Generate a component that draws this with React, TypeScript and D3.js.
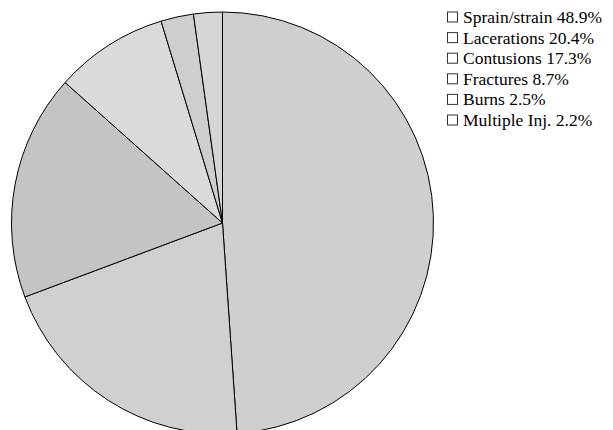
import React from "react";
import * as d3 from "d3";

const categories = ["Sprain/strain", "Lacerations", "Contusions", "Fractures", "Burns", "Multiple Inj."];
const values = [48.9, 20.4, 17.3, 8.7, 2.5, 2.2];
const sliceColors = ["#cfcfcf", "#d0d0d0", "#c4c4c4", "#dadada", "#cecece", "#d6d6d6"];

const W = 613;
const H = 430;
const cx = 222.5;
const cy = 223;
const R = 211;
const FONT = '"Liberation Serif", "Times New Roman", Times, serif';

export default function App() {
  const pie = d3.pie<number>().sort(null).value((d) => d)(values);
  const arc = d3.arc<d3.PieArcDatum<number>>().innerRadius(0).outerRadius(R);
  const legendY = d3.scaleLinear().domain([0, 1]).range([23, 43.6]);

  return (
    <svg
      width={W}
      height={H}
      style={{ position: "absolute", left: 0, top: 0, background: "#fff" }}
    >
      <rect width={W} height={H} fill="#fff" />
      <g transform={`translate(${cx},${cy})`}>
        {pie.map((p, i) => (
          <path key={i} d={arc(p) || ""} fill={sliceColors[i]} stroke="#000" strokeWidth={1} />
        ))}
      </g>
      <g>
        {categories.map((c, i) => {
          const y = legendY(i);
          return (
            <g key={c}>
              <rect x={447.5} y={y - 11} width={10} height={10} fill="#fff" stroke="#333" strokeWidth={1} />
              <text x={463} y={y} fontFamily={FONT} fontSize={17.5} fill="#000">
                {`${c} ${values[i].toFixed(1)}%`}
              </text>
            </g>
          );
        })}
      </g>
    </svg>
  );
}
